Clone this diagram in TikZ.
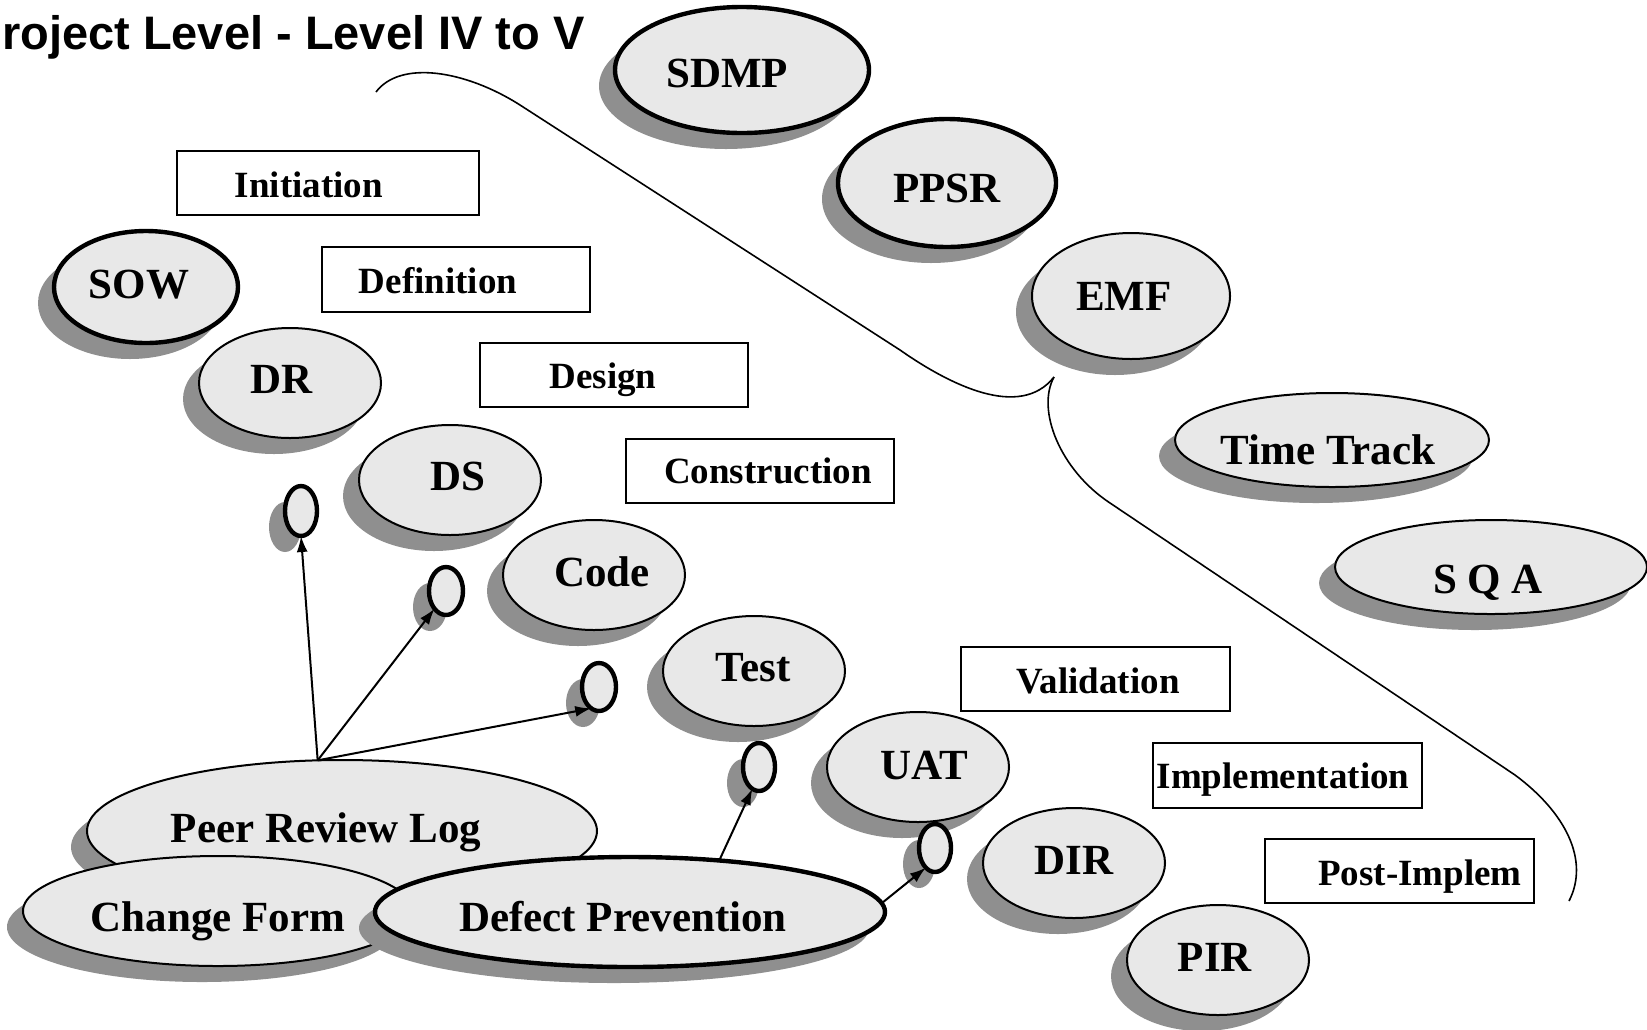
\documentclass[tikz,border=0pt]{standalone}
\usepackage{fontspec}
\setmainfont{Liberation Serif}
\newfontfamily\headfont{Liberation Sans}
\usetikzlibrary{shapes.geometric,shadows,arrows.meta}
\definecolor{bubble}{HTML}{E8E8E8}
\definecolor{shade}{HTML}{8F8F8F}
\begin{document}
\begin{tikzpicture}[x=0.5pt,y=-0.5pt,
  bub/.style={ellipse, draw=black, line width=1pt, fill=bubble, inner sep=0pt, outer sep=0pt,
     drop shadow={shadow xshift=-8pt,shadow yshift=-8pt,fill=shade,opacity=1}},
  heavy/.style={line width=2.2pt},
  knob/.style={bub, heavy},
  phase/.style={draw=black, line width=1pt, fill=white, inner sep=0pt},
  ltxt/.style={font=\bfseries\fontsize{21.5pt}{24pt}\selectfont, anchor=base, inner sep=0pt},
  ptxt/.style={font=\bfseries\fontsize{18.5pt}{22pt}\selectfont, anchor=base, inner sep=0pt},
  link/.style={line width=1pt, -{Latex[length=8pt,width=5.5pt]}},
  brace/.style={line width=0.8pt},
]
\useasboundingbox (0,0) rectangle (1647,1029);

% heading
\node[font=\headfont\bfseries\fontsize{23.5pt}{26pt}\selectfont, anchor=base east, inner sep=0pt]
  (title) at (585,49) {Project Level - Level IV to V};

% brace separating project phases from umbrella activities
\draw[brace] (376,92) .. controls (400,60) and (465,70) .. (520,105) -- (900,350)
  .. controls (950,385) and (1020,420) .. (1054,377);
\draw[brace] (1054,377) .. controls (1036,410) and (1060,470) .. (1110,503) -- (1515,775)
  .. controls (1565,812) and (1590,860) .. (1569,901);

% phase boxes
\node[phase, minimum width=151pt, minimum height=32pt] (init) at (328,183) {};
\node[ptxt] (initT) at (309,197) {Initiation};
\node[phase, minimum width=134pt, minimum height=32.5pt] (defn) at (456,279.5) {};
\node[ptxt] (defnT) at (438,293) {Definition};
\node[phase, minimum width=134pt, minimum height=32pt] (desg) at (614,375) {};
\node[ptxt] (desgT) at (603,388) {Design};
\node[phase, minimum width=134pt, minimum height=32pt] (cons) at (760,471) {};
\node[ptxt] (consT) at (768,483) {Construction};
\node[phase, minimum width=134.5pt, minimum height=32pt] (vald) at (1095.5,679) {};
\node[ptxt] (valdT) at (1098,693) {Validation};
\node[phase, minimum width=134.5pt, minimum height=32.5pt] (impl) at (1287.5,775.5) {};
\node[ptxt] (implT) at (1283,788) {Implementation};
\node[phase, minimum width=134.5pt, minimum height=32pt] (post) at (1399.5,871) {};
\node[ptxt] (postT) at (1420,885) {Post-Implem};

% umbrella activities
\node[bub, heavy, minimum width=127pt, minimum height=63pt] (sdmp) at (742,70) {};
\node[ltxt] (sdmpT) at (727,87) {SDMP};
\node[bub, heavy, minimum width=109pt, minimum height=64pt] (ppsr) at (947,183) {};
\node[ltxt] (ppsrT) at (947,202) {PPSR};
\node[bub, minimum width=99pt, minimum height=63pt] (emf) at (1131,296) {};
\node[ltxt] (emfT) at (1124,310) {EMF};
\node[bub, minimum width=157pt, minimum height=47pt] (time) at (1332,440) {};
\node[ltxt] (timeT) at (1328,464) {Time Track};
\node[bub, minimum width=156pt, minimum height=47pt] (sqa) at (1491,567) {};
\node[ltxt] (sqaT) at (1488,593) {S Q A};

% phase deliverables
\node[bub, heavy, minimum width=92pt, minimum height=56pt] (sow) at (146,287) {};
\node[ltxt] (sowT) at (139,298) {SOW};
\node[bub, minimum width=91pt, minimum height=55pt] (dr) at (290,383) {};
\node[ltxt] (drT) at (282,393) {DR};
\node[bub, minimum width=91pt, minimum height=55pt] (ds) at (450,480) {};
\node[ltxt] (dsT) at (458,490) {DS};
\node[knob, minimum width=16pt, minimum height=25pt] (c1) at (301,511) {};
\node[bub, minimum width=91pt, minimum height=55pt] (code) at (594,575) {};
\node[ltxt] (codeT) at (602,586) {Code};
\node[knob, minimum width=17pt, minimum height=24pt] (c2) at (446,591) {};
\node[bub, minimum width=91pt, minimum height=55pt] (test) at (754,671) {};
\node[ltxt] (testT) at (753,681) {Test};
\node[knob, minimum width=17pt, minimum height=24pt] (c3) at (599,687) {};
\node[knob, minimum width=16pt, minimum height=24pt] (c4) at (759,767) {};
\node[bub, minimum width=91pt, minimum height=55pt] (uat) at (918,767) {};
\node[ltxt] (uatT) at (924,779) {UAT};
\node[knob, minimum width=16pt, minimum height=24pt] (c5) at (935,848) {};
\node[bub, minimum width=91pt, minimum height=55pt] (dir) at (1074,863) {};
\node[ltxt] (dirT) at (1074,874) {DIR};
\node[bub, minimum width=91pt, minimum height=55pt] (pir) at (1218,960) {};
\node[ltxt] (pirT) at (1215,971) {PIR};

% quality records
\node[bub, minimum width=255pt, minimum height=71pt] (prl) at (342,831) {};
\node[ltxt] (prlT) at (326,842) {Peer Review Log};
\node[bub, minimum width=195pt, minimum height=55pt] (cf) at (218,911) {};
\node[ltxt] (cfT) at (218,931) {Change Form};
\node[bub, heavy, minimum width=255pt, minimum height=55pt] (dp) at (630,912) {};
\node[ltxt] (dpT) at (623,931) {Defect Prevention};

% review and prevention links
\draw[link] (prl.109) -- (c1.south);
\draw[link] (prl.109) -- (c2.237);
\draw[link] (prl.109) -- (c3.250);
\draw[link] (dp.30) -- (c4.253);
\draw[link] (dp.2) -- (c5.245);
\end{tikzpicture}
\end{document}
